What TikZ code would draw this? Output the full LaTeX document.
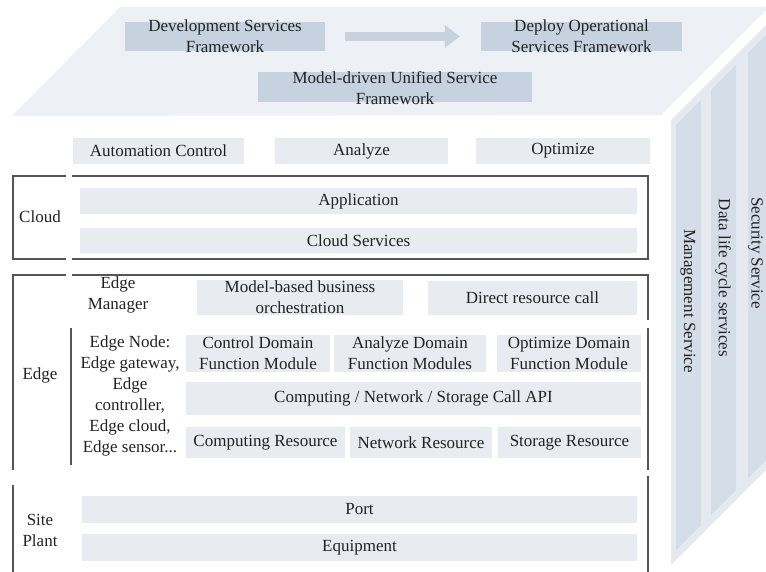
\documentclass[tikz,border=0pt]{standalone}
\usepackage{fontspec}
\setmainfont{Liberation Serif}
\usepackage{tikz}
\usetikzlibrary{arrows.meta}

\definecolor{topface}{HTML}{EDF0F5}
\definecolor{sideface}{HTML}{E5EAF1}
\definecolor{panel}{HTML}{D5DDE8}
\definecolor{fwblue}{HTML}{C6D2E0}
\definecolor{layer}{HTML}{E8ECF1}
\definecolor{framegray}{HTML}{555555}
\definecolor{txt}{HTML}{222222}

\begin{document}
\begin{tikzpicture}[x=1pt,y=-1pt,font=\fontsize{17}{21}\selectfont,
    lbl/.style={align=center,inner sep=0pt,text=txt},
    layerbox/.style={fill=layer,inner sep=0pt,align=center,text=txt},
    fwbox/.style={fill=fwblue,inner sep=0pt},
    frame/.style={draw=framegray,line width=1.1pt},
    flow/.style={fwblue,line width=9pt,-{Triangle[length=15pt,width=22pt]}}]

\useasboundingbox (0,0) rectangle (766,572);

\coordinate (t1) at (120,7);
\coordinate (t2) at (766,7);
\coordinate (t3) at (766,10);
\coordinate (t4) at (661,115);
\coordinate (t5) at (12,116);
\fill[topface] (t1) -- (t2) -- (t3) -- (t4) -- (t5) -- cycle;

\coordinate (s1) at (671,120);
\coordinate (s2) at (766,25);
\coordinate (s3) at (766,470);
\coordinate (s4) at (671,565);
\fill[sideface] (s1) -- (s2) -- (s3) -- (s4) -- cycle;

\foreach \x/\w in {676/25,711/25,748/30}
    \fill[panel] (\x,801-\x) -- ++(\w,-\w) -- ++(0,425) -- ++(-\w,\w) -- cycle;

\node[lbl,rotate=-90] (mgmt) at (688,301) {Management Service};
\node[lbl,rotate=-90] (dlc) at (723,278) {Data life cycle services};
\node[lbl,rotate=-90] (sec) at (755.5,253) {Security Service};

\node[fwbox,minimum width=200pt,minimum height=29pt] (devbox) at (225,36.5) {};
\node[fwbox,minimum width=201pt,minimum height=29pt] (deploybox) at (581.5,36.5) {};
\node[fwbox,minimum width=274pt,minimum height=30pt] (modelbox) at (395,87) {};
\node[lbl] (dev) at (devbox) {Development Services\\Framework};
\node[lbl] (deploy) at (deploybox) {Deploy Operational\\Services Framework};
\node[lbl] (model) at (395,88) {Model-driven Unified Service\\Framework};
\draw[flow] ([xshift=20pt]devbox.east) -- ([xshift=-21pt]deploybox.west);

\foreach \n/\cx/\w/\t in {auto/158.5/171/Automation Control,ana/361.5/173/Analyze,opt/563/174/Optimize}
    \node[layerbox,minimum width=\w pt,minimum height=26pt] (\n) at (\cx,151) {\t};

\draw[frame] (66,176) -- (13,176) -- (13,259) -- (66,259);
\draw[frame] (72,176) -- (648,176) -- (648,259) -- (72,259);
\node[lbl] (cloud) at (40,217) {Cloud};
\node[layerbox,minimum width=557pt,minimum height=26pt] (app) at (358.5,201) {Application};
\node[layerbox,minimum width=557pt,minimum height=25pt] (cloudsrv) at (358.5,240.5) {Cloud Services};

\draw[frame] (66,275) -- (13,275) -- (13,470);
\draw[frame] (72,275) -- (648,275) -- (648,320);
\draw[frame] (648,328) -- (648,470);
\draw[frame] (71,328) -- (71,465);
\node[lbl] (edge) at (40,375) {Edge};
\node[lbl] (edgemgr) at (118,295) {Edge\\Manager};
\node[layerbox,minimum width=206pt,minimum height=35pt] (orch) at (300,297.5) {Model-based business\\orchestration};
\node[layerbox,minimum width=209pt,minimum height=34pt] (direct) at (532.5,298) {Direct resource call};

\node[lbl] (edgenode) at (130,396) {Edge Node:\\Edge gateway,\\Edge\\controller,\\Edge cloud,\\Edge sensor...};
\node[layerbox,minimum width=144pt,minimum height=37pt] (ctrlfm) at (258,353.5) {Control Domain\\Function Module};
\node[layerbox,minimum width=152pt,minimum height=37pt] (anafm) at (410,353.5) {Analyze Domain\\Function Modules};
\node[layerbox,minimum width=144pt,minimum height=37pt] (optfm) at (569,353.5) {Optimize Domain\\Function Module};
\node[layerbox,minimum width=455pt,minimum height=33pt] (api) at (413.5,398.5) {Computing / Network / Storage Call API};

\foreach \n/\cx/\w/\t in {compres/265.5/159/Computing Resource,netres/421/142/Network Resource,stores/569.5/143/Storage Resource}
    \node[layerbox,minimum width=\w pt,minimum height=31pt] (\n) at (\cx,442.5) {\t};

\draw[frame] (13,485) -- (13,572);
\draw[frame] (648,476) -- (648,572);
\node[lbl] (site) at (40,530) {Site\\Plant};
\node[layerbox,minimum width=555pt,minimum height=27pt] (port) at (359.5,509.5) {Port};
\node[layerbox,minimum width=555pt,minimum height=27pt] (equip) at (359.5,547.5) {Equipment};

\end{tikzpicture}
\end{document}
